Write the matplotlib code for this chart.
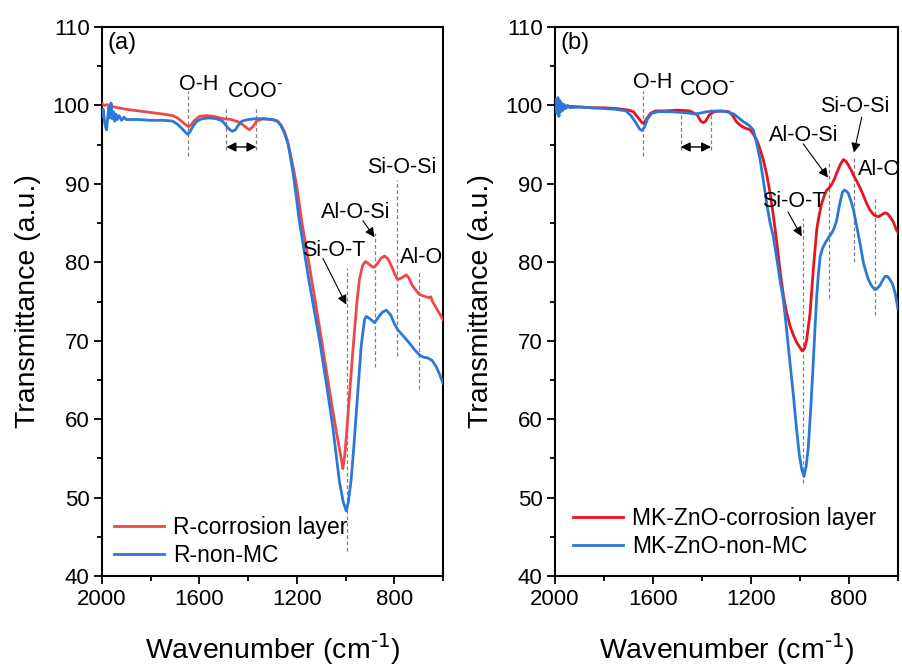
import matplotlib
matplotlib.use("Agg")
import matplotlib.pyplot as plt
from matplotlib.ticker import MultipleLocator

plt.rcParams['font.family'] = ['Liberation Sans', 'DejaVu Sans']
plt.rcParams['mathtext.default'] = 'regular'

# ---------------- data ----------------
# Panel (a): R-corrosion layer
a_red_wn = [2000, 1990, 1980, 1950, 1900, 1850, 1800, 1750, 1710, 1690, 1670, 1655, 1645, 1635, 1620,
            1600, 1570, 1540, 1500, 1470, 1440, 1420, 1405, 1395, 1380, 1365, 1340, 1300, 1280, 1265,
            1250, 1240, 1225, 1210, 1200, 1190, 1180, 1150, 1120, 1093, 1060, 1040, 1025, 1016, 1011,
            1003, 995, 984, 973, 963, 953, 943, 930, 918, 905, 890, 881, 870, 855, 840, 825, 810, 795,
            786, 770, 751, 740, 725, 710, 697, 680, 660, 650, 643, 630, 615, 600]
a_red_t = [100.2, 100.0, 100.1, 99.8, 99.5, 99.3, 99.1, 98.9, 98.7, 98.4, 97.9, 97.5, 97.3, 97.5, 98.1,
           98.6, 98.7, 98.6, 98.3, 98.2, 97.9, 97.5, 97.1, 96.9, 97.3, 98.0, 98.3, 98.2, 98.0, 97.5,
           96.6, 95.6, 93.6, 91.3, 89.6, 87.5, 85.2, 79.8, 74.2, 69.0, 62.5, 58.8, 56.2, 54.6, 53.7,
           55.5, 58.5, 63.0, 67.5, 71.4, 75.0, 77.8, 79.6, 80.1, 79.8, 79.4, 79.4, 79.8, 80.5, 80.8, 80.4,
           79.4, 78.3, 77.8, 78.0, 78.4, 78.0, 77.0, 76.4, 75.9, 75.7, 75.5, 75.6, 75.0, 74.3, 73.5, 72.7]
# Panel (a): R-non-MC
a_blue_wn = [2000, 1995, 1990, 1985, 1981, 1977, 1972, 1968, 1963, 1958, 1953, 1948, 1943, 1938, 1930,
             1920, 1910, 1900, 1850, 1800, 1750, 1710, 1690, 1670, 1655, 1648, 1640, 1625, 1610, 1590,
             1560, 1530, 1505, 1490, 1475, 1465, 1452, 1440, 1425, 1400, 1370, 1340, 1300, 1280, 1265,
             1250, 1235, 1216, 1205, 1191, 1150, 1107, 1075, 1052, 1025, 1010, 997, 988, 977, 966, 956,
             946, 936, 922, 915, 900, 881, 865, 850, 833, 815, 800, 786, 760, 738, 715, 697, 680, 663,
             645, 628, 615, 600]
a_blue_t = [98.6, 99.5, 98.0, 97.2, 96.9, 98.3, 99.8, 98.4, 100.3, 98.3, 99.2, 98.0, 98.9, 98.2, 98.7,
            98.1, 98.5, 98.2, 98.2, 98.1, 98.1, 98.0, 97.6, 97.0, 96.5, 96.3, 96.6, 97.4, 98.0, 98.3,
            98.4, 98.3, 98.0, 97.4, 96.9, 96.7, 96.9, 97.5, 98.0, 98.2, 98.3, 98.3, 98.2, 98.0, 97.4,
            96.4, 95.0, 91.5, 89.0, 85.5, 77.6, 70.1, 63.8, 58.9, 52.0, 49.5, 48.3, 49.5, 52.3, 56.5, 60.8,
            65.0, 69.3, 72.7, 73.1, 72.8, 72.3, 73.0, 73.6, 73.9, 73.3, 72.2, 71.4, 70.5, 69.7, 68.8, 68.2,
            67.9, 67.8, 67.5, 66.7, 65.8, 64.6]

# Panel (b): MK-ZnO-corrosion layer
b_red_wn = [2000, 1980, 1950, 1900, 1850, 1800, 1750, 1720, 1700, 1680, 1660, 1645, 1638, 1628, 1610,
            1590, 1550, 1500, 1450, 1420, 1405, 1395, 1385, 1370, 1350, 1320, 1290, 1275, 1259, 1245,
            1230, 1215, 1204, 1190, 1177, 1165, 1150, 1136, 1122, 1109, 1095, 1082, 1068, 1055, 1041,
            1027, 1014, 1000, 991, 982, 973, 959, 946, 932, 925, 912, 900, 891, 881, 871, 860, 850,
            835, 823, 813, 803, 792, 782, 768, 755, 741, 728, 715, 701, 690, 680, 665, 653, 643, 633,
            620, 606, 600]
b_red_t = [100.1, 99.9, 99.9, 99.8, 99.7, 99.7, 99.6, 99.5, 99.4, 99.2, 98.4, 97.8, 97.7, 98.2, 99.0,
           99.3, 99.3, 99.4, 99.3, 98.8, 98.0, 97.8, 98.0, 98.8, 99.2, 99.3, 99.2, 98.7, 97.9, 97.5,
           97.2, 97.0, 96.9, 96.3, 95.6, 94.6, 93.1, 91.2, 88.8, 86.0, 82.6, 79.0, 75.8, 73.6, 71.9,
           70.7, 69.8, 69.1, 68.7, 69.0, 70.1, 73.5, 79.0, 84.1, 85.5, 87.5, 88.6, 89.2, 89.5, 89.9, 90.6,
           91.4, 92.5, 93.1, 92.9, 92.4, 91.8, 91.1, 90.3, 89.5, 88.5, 87.5, 86.7, 86.1, 85.9, 85.8, 86.1,
           86.3, 86.2, 85.8, 85.2, 84.1, 83.8]
# Panel (b): MK-ZnO-non-MC
b_blue_wn = [2000, 1996, 1992, 1988, 1984, 1980, 1976, 1972, 1967, 1962, 1955, 1948, 1940, 1900, 1850,
             1800, 1750, 1710, 1690, 1670, 1655, 1645, 1635, 1622, 1605, 1580, 1530, 1480, 1450, 1430,
             1410, 1380, 1340, 1300, 1270, 1250, 1230, 1210, 1191, 1177, 1163, 1150, 1136, 1122, 1109,
             1095, 1082, 1068, 1055, 1041, 1027, 1014, 1003, 993, 984, 975, 966, 956, 946, 939, 932,
             925, 918, 908, 898, 885, 871, 860, 850, 842, 834, 827, 820, 812, 803, 793, 782, 768, 755,
             741, 731, 721, 708, 694, 684, 673, 663, 653, 643, 633, 622, 612, 600]
b_blue_t = [99.8, 100.8, 99.0, 101.0, 98.6, 100.6, 99.2, 100.3, 99.4, 100.1, 99.6, 100.0, 99.7, 99.8, 99.7,
            99.6, 99.5, 99.3, 98.7, 97.8, 97.0, 96.8, 97.2, 98.3, 99.0, 99.2, 99.2, 99.1, 99.0, 98.9,
            99.0, 99.2, 99.3, 99.2, 98.9, 98.4, 97.9, 97.5, 96.9, 95.2, 93.1, 90.5, 87.5, 85.0, 83.3,
            80.5, 77.8, 75.2, 71.5, 67.2, 63.0, 58.7, 55.5, 53.6, 52.7, 54.0, 56.5, 61.5, 67.2, 71.5, 75.6,
            78.5, 80.7, 81.8, 82.4, 83.1, 83.7, 84.4, 85.4, 86.8, 88.0, 88.9, 89.2, 89.1, 88.8, 87.9, 86.7,
            84.5, 82.4, 79.9, 78.8, 77.8, 77.0, 76.5, 76.7, 77.1, 77.7, 78.2, 78.2, 77.8, 77.2, 76.1, 74.0]

labels_a = ['R-corrosion layer', 'R-non-MC']
labels_b = ['MK-ZnO-corrosion layer', 'MK-ZnO-non-MC']
xticks = [2000, 1600, 1200, 800]
yticks = [40, 50, 60, 70, 80, 90, 100, 110]

RED_A = '#F04848'
RED_B = '#E8141C'
BLUE = '#2B78D6'
GRAY = '#808080'

fig = plt.figure(figsize=(9.02, 6.68), dpi=100)
ax_a = fig.add_axes([0.1131, 0.1377, 0.3780, 0.8219])
ax_b = fig.add_axes([0.6153, 0.1377, 0.3803, 0.8219])


def style(ax):
    ax.set_xlim(2000, 600)
    ax.set_ylim(40, 110)
    ax.set_xticks(xticks)
    ax.set_yticks(yticks)
    ax.xaxis.set_minor_locator(MultipleLocator(200))
    ax.yaxis.set_minor_locator(MultipleLocator(5))
    ax.tick_params(which='both', direction='out', width=1.3, labelsize=16, top=False, right=False,
                   color='black')
    ax.tick_params(which='major', length=6, pad=3)
    ax.tick_params(which='minor', length=3.5)
    for sp in ax.spines.values():
        sp.set_linewidth(1.5)
    ax.set_xlabel(r'Wavenumber (cm$^{\text{-1}}$)', fontsize=20.5, labelpad=16)
    ax.set_ylabel('Transmittance (a.u.)', fontsize=20.5, labelpad=8)


def vline(ax, x, y0, y1):
    ax.plot([x, x], [y0, y1], color=GRAY, lw=0.9, ls=(0, (3, 2)), zorder=1)


def arrow(ax, xy_from, xy_to):
    ax.annotate('', xy=xy_to, xytext=xy_from,
                arrowprops=dict(arrowstyle='-|>', color='black', lw=0.8, mutation_scale=14,
                                shrinkA=0, shrinkB=0))


def darrow(ax, x0, x1, y):
    ax.annotate('', xy=(x1, y), xytext=(x0, y),
                arrowprops=dict(arrowstyle='<|-|>', color='black', lw=1.0, mutation_scale=14,
                                shrinkA=0, shrinkB=0))


FS = 15.5
COO = r'COO$^{\text{-}}$'

# ---------------- panel (a) ----------------
ax = ax_a
ax.plot(a_red_wn, a_red_t, color=RED_A, lw=2.0, label=labels_a[0], zorder=3)
ax.plot(a_blue_wn, a_blue_t, color=BLUE, lw=2.0, label=labels_a[1], zorder=3)
style(ax)
ax.text(0.016, 0.99, '(a)', transform=ax.transAxes, fontsize=17, ha='left', va='top')
vline(ax, 1648, 93.5, 101.8)
ax.text(1605, 102.0, 'O-H', fontsize=FS, ha='center', va='baseline')
vline(ax, 1489, 94.3, 99.7)
vline(ax, 1366, 94.3, 99.7)
darrow(ax, 1489, 1366, 94.7)
ax.text(1371, 101.1, COO, fontsize=FS, ha='center', va='baseline')
vline(ax, 790, 68.0, 90.5)
ax.text(770, 91.4, 'Si-O-Si', fontsize=FS, ha='center', va='baseline')
vline(ax, 878, 66.6, 83.7)
ax.text(959, 85.6, 'Al-O-Si', fontsize=FS, ha='center', va='baseline')
arrow(ax, (929, 85.3), (881, 83.2))
vline(ax, 995, 43.2, 79.3)
ax.text(1049, 80.8, 'Si-O-T', fontsize=FS, ha='center', va='baseline')
arrow(ax, (1093, 80.5), (997, 74.6))
vline(ax, 697, 63.8, 78.7)
ax.text(776, 79.9, 'Al-O', fontsize=FS, ha='left', va='baseline', clip_on=True)
ax.legend(loc='lower left', bbox_to_anchor=(-0.013, -0.012), frameon=False, fontsize=16.5,
          handlelength=2.2, handletextpad=0.4, labelspacing=0.2, borderaxespad=0.3)

# ---------------- panel (b) ----------------
ax = ax_b
ax.plot(b_red_wn, b_red_t, color=RED_B, lw=2.0, label=labels_b[0], zorder=3)
ax.plot(b_blue_wn, b_blue_t, color=BLUE, lw=2.0, label=labels_b[1], zorder=3)
style(ax)
ax.text(0.016, 0.99, '(b)', transform=ax.transAxes, fontsize=17, ha='left', va='top')
vline(ax, 1641, 93.5, 101.8)
ax.text(1602, 102.2, 'O-H', fontsize=FS, ha='center', va='baseline')
vline(ax, 1487, 94.3, 99.7)
vline(ax, 1363, 94.3, 99.7)
darrow(ax, 1487, 1363, 94.7)
ax.text(1378, 101.3, COO, fontsize=FS, ha='center', va='baseline')
vline(ax, 882, 75.5, 93.0)
ax.text(987, 95.4, 'Al-O-Si', fontsize=FS, ha='center', va='baseline')
arrow(ax, (987, 95.1), (886, 90.8))
vline(ax, 778, 80.1, 93.5)
ax.text(776, 99.1, 'Si-O-Si', fontsize=FS, ha='center', va='baseline')
arrow(ax, (748, 98.5), (780, 94.0))
vline(ax, 696, 73.3, 88.2)
ax.text(763, 91.1, 'Al-O', fontsize=FS, ha='left', va='baseline', clip_on=True)
vline(ax, 989, 51.9, 85.7)
ax.text(1027, 87.1, 'Si-O-T', fontsize=FS, ha='center', va='baseline')
arrow(ax, (1049, 86.4), (993, 83.3))
ax.legend(loc='lower left', bbox_to_anchor=(0.005, 0.004), frameon=False, fontsize=16.5,
          handlelength=2.2, handletextpad=0.4, labelspacing=0.2, borderaxespad=0.3)

fig.savefig('out.png', dpi=100)
